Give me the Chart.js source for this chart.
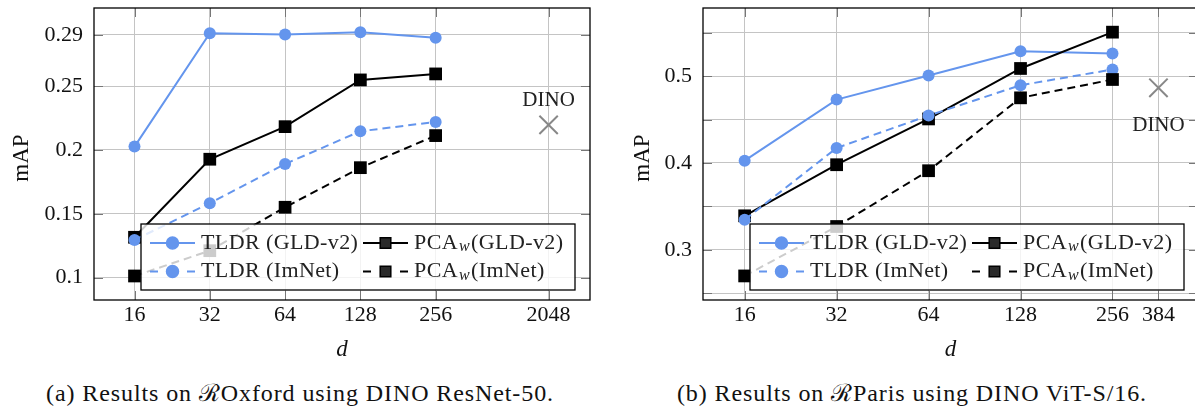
<!DOCTYPE html>
<html>
<head>
<meta charset="utf-8">
<script src="https://cdn.jsdelivr.net/npm/chart.js@4.4.1/dist/chart.umd.min.js"></script>
<style>
  html, body { margin: 0; padding: 0; background: #fff; overflow: hidden; }
  body { width: 1195px; height: 406px; position: relative; }
  .panel { position: absolute; top: 0; height: 370px; overflow: hidden; }
  #leftPanel { left: 0; width: 597px; }
  #rightPanel { left: 597px; width: 598px; }
  .cap {
    position: absolute; top: 381px; white-space: nowrap; line-height: 24px;
    font-family: "Liberation Serif", serif; font-size: 24px; letter-spacing: 0.9px;
    color: #111; transform: translateX(-50%);
  }
</style>
</head>
<body>
<div class="panel" id="leftPanel"><canvas id="oxfordChart" width="597" height="370"></canvas></div>
<div class="panel" id="rightPanel"><canvas id="parisChart" width="612" height="370"></canvas></div>
<div class="cap" style="left:300px">(a) Results on ℛOxford using DINO ResNet-50.</div>
<div class="cap" style="left:912px">(b) Results on ℛParis using DINO ViT-S/16.</div>

<script>
"use strict";

// slot of each d value on the x axis (pgfplots symbolic-like placement)
const dims = ["16", "32", "64", "128", "256"];
const dimSlots = [0, 1, 2, 3, 4];

// (a) ROxford, DINO ResNet-50
const oxfordTldrGld = [0.2026, 0.2914, 0.2903, 0.2922, 0.2879];
const oxfordPcaGld = [0.1316, 0.1927, 0.2182, 0.2548, 0.2595];
const oxfordTldrImnet = [0.1295, 0.1583, 0.189, 0.2146, 0.2219];
const oxfordPcaImnet = [0.1013, 0.1211, 0.1551, 0.1861, 0.2112];
const oxfordDino = 0.2196;
const oxfordDinoDim = "2048";
const oxfordDinoSlot = 5.5;
const oxfordYTicks = [0.1, 0.15, 0.2, 0.25, 0.29];
const oxfordYLabels = ["0.1", "0.15", "0.2", "0.25", "0.29"];

// (b) RParis, DINO ViT-S/16
const parisTldrGld = [0.4027, 0.473, 0.5007, 0.5287, 0.5261];
const parisPcaGld = [0.3392, 0.398, 0.4507, 0.5088, 0.5506];
const parisTldrImnet = [0.3346, 0.4173, 0.4546, 0.4895, 0.5076];
const parisPcaImnet = [0.27, 0.3269, 0.3911, 0.475, 0.4961];
const parisDino = 0.4865;
const parisDinoDim = "384";
const parisDinoSlot = 4.5;
const parisYTicks = [0.25, 0.3, 0.35, 0.4, 0.45, 0.5, 0.55];
const parisYLabels = ["", "0.3", "", "0.4", "", "0.5", ""];

const BLUE = "#6495ed";
const FONT = "Liberation Serif";

function pts(values) {
  return values.map((v, i) => ({ x: dimSlots[i], y: v }));
}

const seriesStyle = [
  { label: "TLDR", tail: " (GLD-v2)", color: BLUE, dash: [], style: "circle", r: 6 },
  { label: "PCA", tail: "(GLD-v2)", sub: "w", color: "#000", dash: [], style: "rect", r: 9 },
  { label: "TLDR", tail: " (ImNet)", color: BLUE, dash: [8, 5], style: "circle", r: 6 },
  { label: "PCA", tail: "(ImNet)", sub: "w", color: "#000", dash: [8, 5], style: "rect", r: 9 },
];

// frame + inward tick marks + axis titles
const framePlugin = {
  id: "frame",
  beforeDatasetsDraw(chart) {
    const { ctx, chartArea: a, scales } = chart;
    ctx.save();
    ctx.strokeStyle = "#777";
    ctx.lineWidth = 1;
    ctx.beginPath();
    scales.x.ticks.forEach((t) => {
      const px = Math.round(scales.x.getPixelForValue(t.value)) + 0.5;
      ctx.moveTo(px, a.top); ctx.lineTo(px, a.top + 9);
      ctx.moveTo(px, a.bottom); ctx.lineTo(px, a.bottom - 9);
    });
    scales.y.ticks.forEach((t) => {
      const py = Math.round(scales.y.getPixelForValue(t.value)) + 0.5;
      ctx.moveTo(a.left, py); ctx.lineTo(a.left + 9, py);
      ctx.moveTo(a.right, py); ctx.lineTo(a.right - 9, py);
    });
    ctx.stroke();
    ctx.restore();
  },
  afterDraw(chart) {
    const { ctx, chartArea: a } = chart;
    const o = chart.options.plugins.extras;
    ctx.save();
    ctx.strokeStyle = "#000";
    ctx.lineWidth = 1.3;
    ctx.strokeRect(a.left, a.top, a.right - a.left, a.bottom - a.top);

    ctx.fillStyle = "#111";
    ctx.textAlign = "center";
    ctx.textBaseline = "middle";
    ctx.font = "23px '" + FONT + "'";
    ctx.translate(o.yTitleX, 158);
    ctx.rotate(-Math.PI / 2);
    ctx.fillText("mAP", 0, 0);
    ctx.restore();

    ctx.save();
    ctx.fillStyle = "#111";
    ctx.textAlign = "center";
    ctx.textBaseline = "middle";
    ctx.font = "italic 23px '" + FONT + "'";
    ctx.fillText("d", (a.left + a.right) / 2, 350);
    ctx.restore();
  },
};

// DINO label + legend box inside the plot
const legendPlugin = {
  id: "boxLegend",
  afterDatasetsDraw(chart) {
    const { ctx, chartArea: a, scales } = chart;
    const o = chart.options.plugins.extras;

    ctx.save();
    ctx.fillStyle = "#222";
    ctx.font = "21px '" + FONT + "'";
    ctx.textAlign = "center";
    ctx.textBaseline = "middle";
    const dx = scales.x.getPixelForValue(o.dinoSlot);
    const dy = scales.y.getPixelForValue(o.dinoValue);
    ctx.fillText("DINO", dx, dy + o.dinoOffset);
    ctx.restore();

    const bx = a.left + 47, by = 224, bw = 434, bh = 66;
    ctx.save();
    ctx.fillStyle = "rgba(255,255,255,0.8)";
    ctx.fillRect(bx, by, bw, bh);
    ctx.strokeStyle = "#000";
    ctx.lineWidth = 1.3;
    ctx.strokeRect(bx, by, bw, bh);

    const cols = [9, 222];
    const rows = [243, 271.5];
    const lf = "22px '" + FONT + "'";
    seriesStyle.forEach((s, i) => {
      const x0 = bx + cols[i % 2];
      const y0 = rows[Math.floor(i / 2)];
      ctx.letterSpacing = "0px";
      ctx.strokeStyle = s.color;
      ctx.lineWidth = 2;
      ctx.beginPath();
      if (s.dash.length) {
        ctx.moveTo(x0, y0); ctx.lineTo(x0 + 8, y0);
        ctx.moveTo(x0 + 37, y0); ctx.lineTo(x0 + 45, y0);
      } else {
        ctx.moveTo(x0, y0); ctx.lineTo(x0 + 45, y0);
      }
      ctx.stroke();
      ctx.fillStyle = s.style === "rect" ? "#2a2a2a" : s.color;
      ctx.strokeStyle = s.color;
      ctx.lineWidth = 1.5;
      Chart.helpers.drawPoint(ctx, { pointStyle: s.style, radius: s.style === "rect" ? 7.5 : 6, borderWidth: 1.5 }, x0 + 22.5, y0);

      let tx = x0 + 51;
      ctx.fillStyle = "#222";
      ctx.textAlign = "left";
      ctx.textBaseline = "middle";
      ctx.letterSpacing = "0.4px";
      ctx.font = lf;
      ctx.fillText(s.label, tx, y0);
      tx += ctx.measureText(s.label).width;
      if (s.sub) {
        ctx.font = "italic 16px '" + FONT + "'";
        ctx.fillText(s.sub, tx + 1, y0 + 4);
        tx += ctx.measureText(s.sub).width + 2;
        ctx.font = lf;
      }
      ctx.fillText(s.tail, tx, y0);
    });
    ctx.restore();
  },
};

function makeChart(id, cfg) {
  const ds = [cfg.tldrGld, cfg.pcaGld, cfg.tldrImnet, cfg.pcaImnet].map((vals, i) => {
    const s = seriesStyle[i];
    return {
      data: pts(vals),
      order: 5 - i,
      borderColor: s.color,
      backgroundColor: s.color,
      borderWidth: 2,
      borderDash: s.dash,
      pointStyle: s.style,
      pointRadius: s.r,
      pointBorderWidth: 0,
      pointBackgroundColor: s.color,
      tension: 0,
    };
  });
  ds.push({
    data: [{ x: cfg.dinoSlot, y: cfg.dino }],
    order: 0,
    showLine: false,
    pointStyle: "crossRot",
    pointRadius: 13,
    borderColor: "#888",
    pointBorderColor: "#888",
    pointBorderWidth: 2,
  });

  const xSlots = dimSlots.concat([cfg.dinoSlot]);
  const xLabels = dims.concat([cfg.dinoDim]);

  return new Chart(document.getElementById(id), {
    type: "line",
    data: { datasets: ds },
    plugins: [framePlugin, legendPlugin],
    options: {
      responsive: false,
      animation: false,
      layout: { autoPadding: false, padding: { top: 8, right: cfg.padRight, left: 0, bottom: 0 } },
      plugins: {
        legend: { display: false },
        tooltip: { enabled: false },
        extras: { yTitleX: cfg.yTitleX, dinoSlot: cfg.dinoSlot, dinoValue: cfg.dino, dinoOffset: cfg.dinoOffset },
      },
      scales: {
        x: {
          type: "linear",
          min: cfg.xMin,
          max: cfg.xMax,
          afterBuildTicks: (sc) => { sc.ticks = xSlots.map((v) => ({ value: v })); },
          afterFit: (sc) => { sc.height = 70; sc.paddingLeft = 0; sc.paddingRight = 0; },
          grid: { color: "#c4c4c4", drawTicks: false },
          border: { display: false },
          ticks: {
            autoSkip: false, maxRotation: 0, padding: 2, color: "#111",
            font: { family: FONT, size: 22 },
            callback: (v, i) => xLabels[i],
          },
        },
        y: {
          min: cfg.yMin,
          max: cfg.yMax,
          afterBuildTicks: (sc) => { sc.ticks = cfg.yTicks.map((v) => ({ value: v })); },
          afterFit: (sc) => { sc.width = cfg.yWidth; sc.paddingTop = 0; sc.paddingBottom = 0; },
          grid: { color: "#c4c4c4", drawTicks: false },
          border: { display: false },
          ticks: {
            autoSkip: false, padding: 11, color: "#111",
            font: { family: FONT, size: 22 },
            callback: (v, i) => cfg.yLabels[i],
          },
        },
      },
    },
  });
}

function drawAll() {
  makeChart("oxfordChart", {
    tldrGld: oxfordTldrGld, pcaGld: oxfordPcaGld, tldrImnet: oxfordTldrImnet, pcaImnet: oxfordPcaImnet,
    dino: oxfordDino, dinoDim: oxfordDinoDim, dinoSlot: oxfordDinoSlot, dinoOffset: -24,
    yTicks: oxfordYTicks, yLabels: oxfordYLabels,
    xMin: -0.538, xMax: 6.05, yMin: 0.0825, yMax: 0.3111,
    yWidth: 94, padRight: 7, yTitleX: 22,
  });

  makeChart("parisChart", {
    tldrGld: parisTldrGld, pcaGld: parisPcaGld, tldrImnet: parisTldrImnet, pcaImnet: parisPcaImnet,
    dino: parisDino, dinoDim: parisDinoDim, dinoSlot: parisDinoSlot, dinoOffset: 38,
    yTicks: parisYTicks, yLabels: parisYLabels,
    xMin: -0.453, xMax: 4.93, yMin: 0.2423, yMax: 0.5784,
    yWidth: 106, padRight: 11, yTitleX: 46,
  });
}

Promise.all([
  document.fonts.load("22px '" + FONT + "'"),
  document.fonts.load("italic 22px '" + FONT + "'"),
]).then(drawAll, drawAll);
</script>
</body>
</html>
